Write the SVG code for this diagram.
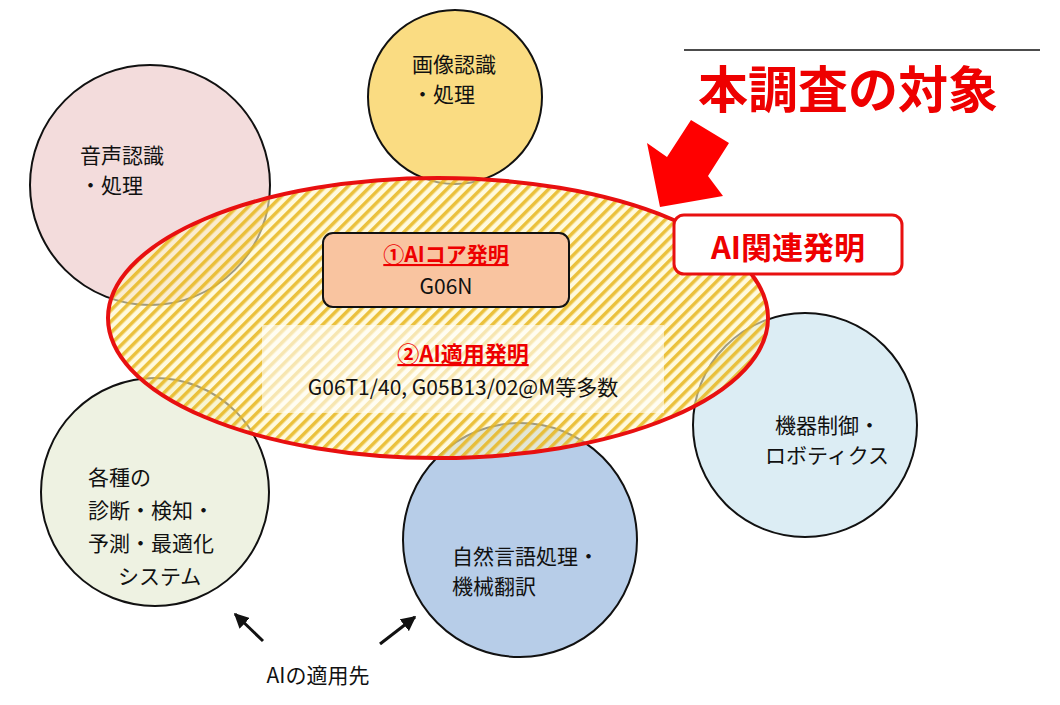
<svg xmlns="http://www.w3.org/2000/svg" width="1060" height="705" viewBox="0 0 1060 705">
<style>
.c{stroke:#111;stroke-width:2}
.t{font-family:"Noto Sans CJK JP","Liberation Sans",sans-serif;font-size:21px;fill:#111}
.r{font-family:"Noto Sans CJK JP","Liberation Sans",sans-serif;font-weight:bold;fill:#e00}
</style>
<defs>
<pattern id="h" width="8" height="8" patternUnits="userSpaceOnUse" patternTransform="rotate(45)">
<rect width="8" height="8" fill="#fff6c8" fill-opacity="0.6"/>
<rect width="3.5" height="8" fill="#e8b820" fill-opacity="0.85"/>
</pattern>
<marker id="a" viewBox="0 0 10 10" refX="9" refY="5" markerWidth="5" markerHeight="5" orient="auto"><path d="M0,0L10,5L0,10z" fill="#111"/></marker>
</defs>
<rect width="1060" height="705" fill="#fff"/>
<line x1="684" y1="50" x2="1040" y2="50" stroke="#111" stroke-width="1.5"/>
<g id="n-voice"><circle cx="150" cy="185" r="120" fill="#f3dcdc" class="c"/><text class="t" x="80" y="163">音声認識</text><text class="t" x="80" y="193">・処理</text></g>
<g id="n-image"><circle cx="455" cy="97" r="87" fill="#fadc82" class="c"/><text class="t" x="412" y="72">画像認識</text><text class="t" x="412" y="102">・処理</text></g>
<g id="n-robot"><circle cx="805" cy="425" r="112" fill="#dcedf4" class="c"/><text class="t" x="775" y="433">機器制御・</text><text class="t" x="765" y="463">ロボティクス</text></g>
<g id="n-diag"><circle cx="155" cy="492" r="114" fill="#eef2e2" class="c"/><text class="t" x="88" y="485">各種の</text><text class="t" x="88" y="518">診断・検知・</text><text class="t" x="88" y="551">予測・最適化</text><text class="t" x="118" y="584">システム</text></g>
<g id="n-nlp"><circle cx="520" cy="540" r="117" fill="#b7cde8" class="c"/><text class="t" x="452" y="564">自然言語処理・</text><text class="t" x="452" y="594">機械翻訳</text></g>
<g id="n-ai"><ellipse cx="438" cy="318" rx="330" ry="140" fill="url(#h)" stroke="#e81010" stroke-width="4"/>
<rect x="262" y="325" width="402" height="88" fill="#fff" fill-opacity="0.6"/>
<rect x="323" y="233" width="246" height="74" rx="10" fill="#f9c4a0" class="c"/>
<text class="r" x="446" y="262" font-size="21" text-anchor="middle" text-decoration="underline">①AIコア発明</text>
<text class="t" x="446" y="294" text-anchor="middle" font-size="18">G06N</text>
<text class="r" x="463" y="362" font-size="22" text-anchor="middle" text-decoration="underline">②AI適用発明</text>
<text class="t" x="463" y="395" text-anchor="middle" font-size="22">G06T1/40, G05B13/02@M等多数</text></g>
<g id="n-label"><rect x="674" y="215" width="228" height="59" rx="10" fill="#fff" stroke="#e81010" stroke-width="3"/><text class="r" x="788" y="259" font-size="31" text-anchor="middle">AI関連発明</text></g>
<g id="n-title"><text class="r" x="848" y="108" font-size="50" text-anchor="middle">本調査の対象</text>
<polygon points="660,207 647,143 667,157 691,120 729,143 708,176 723,196" fill="#f00"/></g>
<g id="connectors"><line x1="263" y1="641" x2="235" y2="614" stroke="#111" stroke-width="3" marker-end="url(#a)"/><line x1="380" y1="644" x2="415" y2="617" stroke="#111" stroke-width="3" marker-end="url(#a)"/></g>
<text class="t" x="318" y="683" text-anchor="middle">AIの適用先</text>
</svg>
